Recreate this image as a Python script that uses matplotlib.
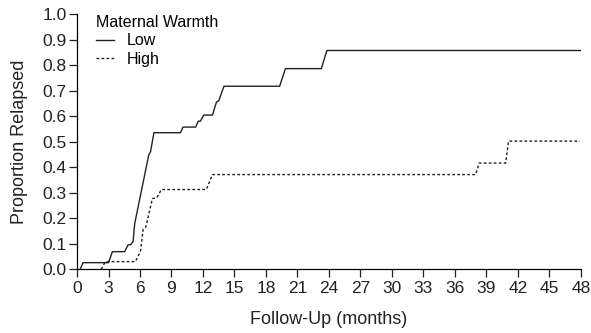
import numpy as np
import matplotlib
matplotlib.use("Agg")
import matplotlib.pyplot as plt

plt.rcParams["font.family"] = ["Liberation Sans", "DejaVu Sans"]

# relapse curves (months, proportion)
lowMonths = [0.3, 0.57, 3.0, 3.37, 4.54, 4.86, 5.1, 5.35, 5.45, 5.5, 6.83, 7.0, 7.33, 9.85, 10.1, 11.3, 11.55, 11.75, 12.07, 12.9, 13.28, 13.5, 14.0, 19.3, 19.85, 23.27, 23.8, 48.0]
lowProp = [0.0, 0.026, 0.026, 0.069, 0.069, 0.096, 0.096, 0.11, 0.16, 0.18, 0.447, 0.46, 0.535, 0.535, 0.557, 0.557, 0.58, 0.58, 0.604, 0.604, 0.655, 0.66, 0.717, 0.717, 0.786, 0.786, 0.857, 0.857]

highMonths = [2.3, 2.7, 5.56, 6.04, 6.3, 6.55, 7.18, 7.6, 8.04, 12.32, 12.9, 37.97, 38.3, 40.83, 41.1, 47.9]
highProp = [0.0, 0.03, 0.03, 0.069, 0.156, 0.165, 0.277, 0.28, 0.3125, 0.3125, 0.371, 0.371, 0.416, 0.416, 0.502, 0.502]

xTicks = np.arange(0, 49, 3)
yTicks = np.round(np.arange(0, 1.01, 0.1), 1)

fig = plt.figure(figsize=(5.91, 3.33), dpi=100)
ax = fig.add_axes([0.1303, 0.1913, 0.8527, 0.7667])

ax.plot(lowMonths, lowProp, color="#222222", lw=1.0, label="Low")
ax.plot(highMonths, highProp, color="#222222", lw=1.0, linestyle=(0, (2, 1.6)), label="High")

ax.set_xlim(0, 48)
ax.set_ylim(0, 1.0)
ax.set_xticks(xTicks)
ax.set_yticks(yTicks)
ax.set_yticklabels(["%.1f" % v for v in yTicks])
ax.tick_params(labelsize=12.5, length=5.5, width=0.9, color="#222222", labelcolor="#222222")
ax.tick_params(axis="x", pad=3)
ax.tick_params(axis="y", pad=2)
ax.spines["top"].set_visible(False)
ax.spines["right"].set_visible(False)
ax.spines["left"].set_linewidth(0.9)
ax.spines["bottom"].set_linewidth(0.9)
ax.set_xlabel("Follow-Up (months)", fontsize=13, color="#222222", labelpad=11)
ax.set_ylabel("Proportion Relapsed", fontsize=13, color="#222222", labelpad=10)

leg = ax.legend(title="Maternal Warmth", loc="upper left", bbox_to_anchor=(0.025, 1.02),
                frameon=False, fontsize=11.5, title_fontsize=11.5, handlelength=1.15,
                handletextpad=0.75, borderaxespad=0, labelspacing=0.2, alignment="left")

fig.savefig("out.png", dpi=100)
